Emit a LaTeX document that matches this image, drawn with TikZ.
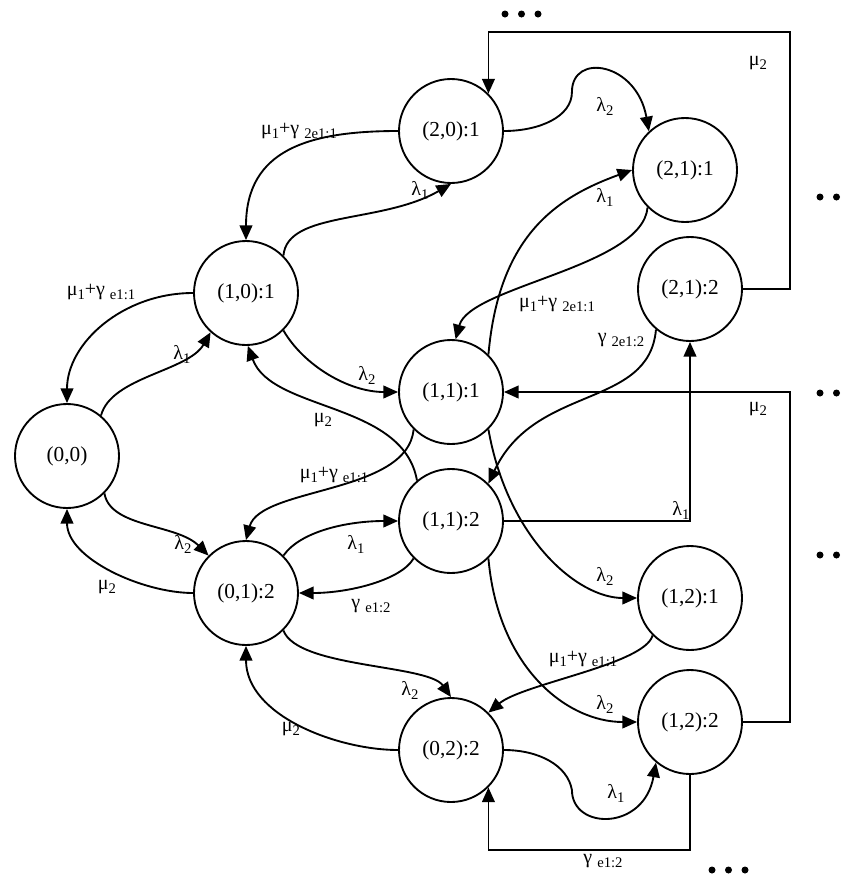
\documentclass[tikz,border=0pt]{standalone}
\usepackage{fontspec}
\setmainfont{Liberation Serif}
\usetikzlibrary{arrows.meta}
\newcommand{\lowsub}[1]{\raisebox{-3pt}{\fontsize{11}{12}\selectfont #1}}

\begin{document}
\begin{tikzpicture}[x=0.75pt,y=0.75pt,
    state/.style={circle,draw,line width=1.4pt,minimum size=78pt,inner sep=0pt,font=\fontsize{16}{18}\selectfont},
    arr/.style={line width=1.4pt,-{Triangle[length=11pt,width=9.5pt]}},
    rate/.style={inner sep=0pt,font=\fontsize{15}{17}\selectfont}]
    \useasboundingbox (0,0) rectangle (849,-875);

    \node[state] (s00) at (67,-456) {(0,0)};
    \node[state] (s10a) at (246,-293) {(1,0):1};
    \node[state] (s20a) at (451,-131) {(2,0):1};
    \node[state] (s21a) at (685,-170) {(2,1):1};
    \node[state] (s21b) at (690,-289) {(2,1):2};
    \node[state] (s11a) at (451,-392) {(1,1):1};
    \node[state] (s11b) at (451,-521) {(1,1):2};
    \node[state] (s01b) at (246,-593) {(0,1):2};
    \node[state] (s12a) at (690,-598) {(1,2):1};
    \node[state] (s12b) at (690,-722) {(1,2):2};
    \node[state] (s02b) at (451,-750) {(0,2):2};

    \draw[arr] (s20a.west) .. controls +(180:90) and +(90:90) .. (s10a.north)
      node[rate] (r1) at (299,-131) {μ\lowsub{1}+γ~\lowsub{2e1:1}};
    \draw[arr] (s10a.45) .. controls +(85:45) and +(210:80) .. (s20a.south)
      node[rate] (r2) at (420,-190) {λ\lowsub{1}};
    \draw[arr] (s10a.west) .. controls +(180:70) and +(90:60) .. (s00.north)
      node[rate] (r3) at (101,-292) {μ\lowsub{1}+γ~\lowsub{e1:1}};
    \draw[arr] (s00.50) .. controls +(75:40) and +(240:45) .. (s10a.228)
      node[rate] (r4) at (182,-354) {λ\lowsub{1}};
    \draw[arr] (s10a.-45) .. controls +(-60:40) and +(180:50) .. (s11a.west)
      node[rate] (r5) at (367,-375) {λ\lowsub{2}};
    \draw[arr] (s11b.130) .. controls +(100:80) and +(-70:70) .. (s10a.-88)
      node[rate] (r6) at (323,-420) {μ\lowsub{2}};
    \draw[arr] (s11a.225) .. controls +(-95:65) and +(75:55) .. (s01b.north)
      node[rate] (r7) at (334,-475) {μ\lowsub{1}+γ~\lowsub{e1:1}};
    \draw[arr] (s00.-45) .. controls +(-80:35) and +(135:45) .. (s01b.135)
      node[rate] (r8) at (183,-544) {λ\lowsub{2}};
    \draw[arr] (s01b.west) .. controls +(180:50) and +(-90:50) .. (s00.south)
      node[rate] (r9) at (107,-587) {μ\lowsub{2}};
    \draw[arr] (s01b.45) .. controls +(55:30) and +(180:50) .. (s11b.west)
      node[rate] (r10) at (356,-544) {λ\lowsub{1}};
    \draw[arr] (s11b.225) .. controls +(-120:25) and +(0:50) .. (s01b.east)
      node[rate] (r11) at (371,-606) {γ~\lowsub{e1:2}};
    \draw[arr] (s01b.-45) .. controls +(-70:40) and +(125:40) .. (s02b.north)
      node[rate] (r12) at (410,-690) {λ\lowsub{2}};
    \draw[arr] (s02b.west) .. controls +(180:60) and +(-90:70) .. (s01b.south)
      node[rate] (r13) at (291,-729) {μ\lowsub{2}};
    \draw[arr] (s02b.east) .. controls +(0:35) and +(100:25) .. ++(68,-40)
      .. controls +(-90:40) and +(-100:70) .. (s12b.230)
      node[rate] (r14) at (616,-793) {λ\lowsub{1}};
    \draw[arr] (s12b.south) -- ++(0,-75) -| (s02b.-45)
      node[rate] (r15) at (603,-861) {γ~\lowsub{e1:2}};
    \draw[arr] (s12a.225) .. controls +(-105:30) and +(40:45) .. (s02b.45)
      node[rate] (r16) at (583,-659) {μ\lowsub{1}+γ~\lowsub{e1:1}};
    \draw[arr] (s11b.-45) .. controls +(-85:110) and +(180:70) .. (s12b.west)
      node[rate] (r17) at (605,-704) {λ\lowsub{2}};
    \draw[arr] (s11a.-45) .. controls +(-80:110) and +(180:60) .. (s12a.west)
      node[rate] (r18) at (605,-576) {λ\lowsub{2}};
    \draw[arr] (s21a.225) .. controls +(-95:60) and +(75:55) .. (s11a.85)
      node[rate] (r19) at (557,-304) {μ\lowsub{1}+γ~\lowsub{2e1:1}};
    \draw[arr] (s11a.45) .. controls +(85:120) and +(200:80) .. (s21a.west)
      node[rate] (r20) at (605,-197) {λ\lowsub{1}};
    \draw[arr] (s21b.230) .. controls +(-95:80) and +(65:110) .. (s11b.45)
      node[rate] (r21) at (621,-340) {γ~\lowsub{2e1:2}};
    \draw[arr] (s11b.east) -| (s21b.south)
      node[rate] (r22) at (681,-510) {λ\lowsub{1}};
    \draw[arr] (s12b.east) -- ++(47,0) |- (s11a.east)
      node[rate] (r23) at (758,-409) {μ\lowsub{2}};
    \draw[arr] (s21b.east) -- ++(47,0) -- ++(0,257) -| (s20a.45)
      node[rate] (r24) at (758,-63) {μ\lowsub{2}};
    \draw[arr] (s20a.east) .. controls +(0:35) and +(-90:25) .. ++(68,39)
      .. controls +(90:40) and +(100:70) .. (s21a.133)
      node[rate] (r25) at (605,-106) {λ\lowsub{2}};

    \foreach \x in {505,521.5,538} \fill (\x,-14) circle (3.5);
    \foreach \y in {197,393,555}
      \foreach \x in {820,836.5,853} \fill (\x,-\y) circle (3.5);
    \foreach \x in {712,728.5,745} \fill (\x,-870) circle (3.5);
\end{tikzpicture}
\end{document}
